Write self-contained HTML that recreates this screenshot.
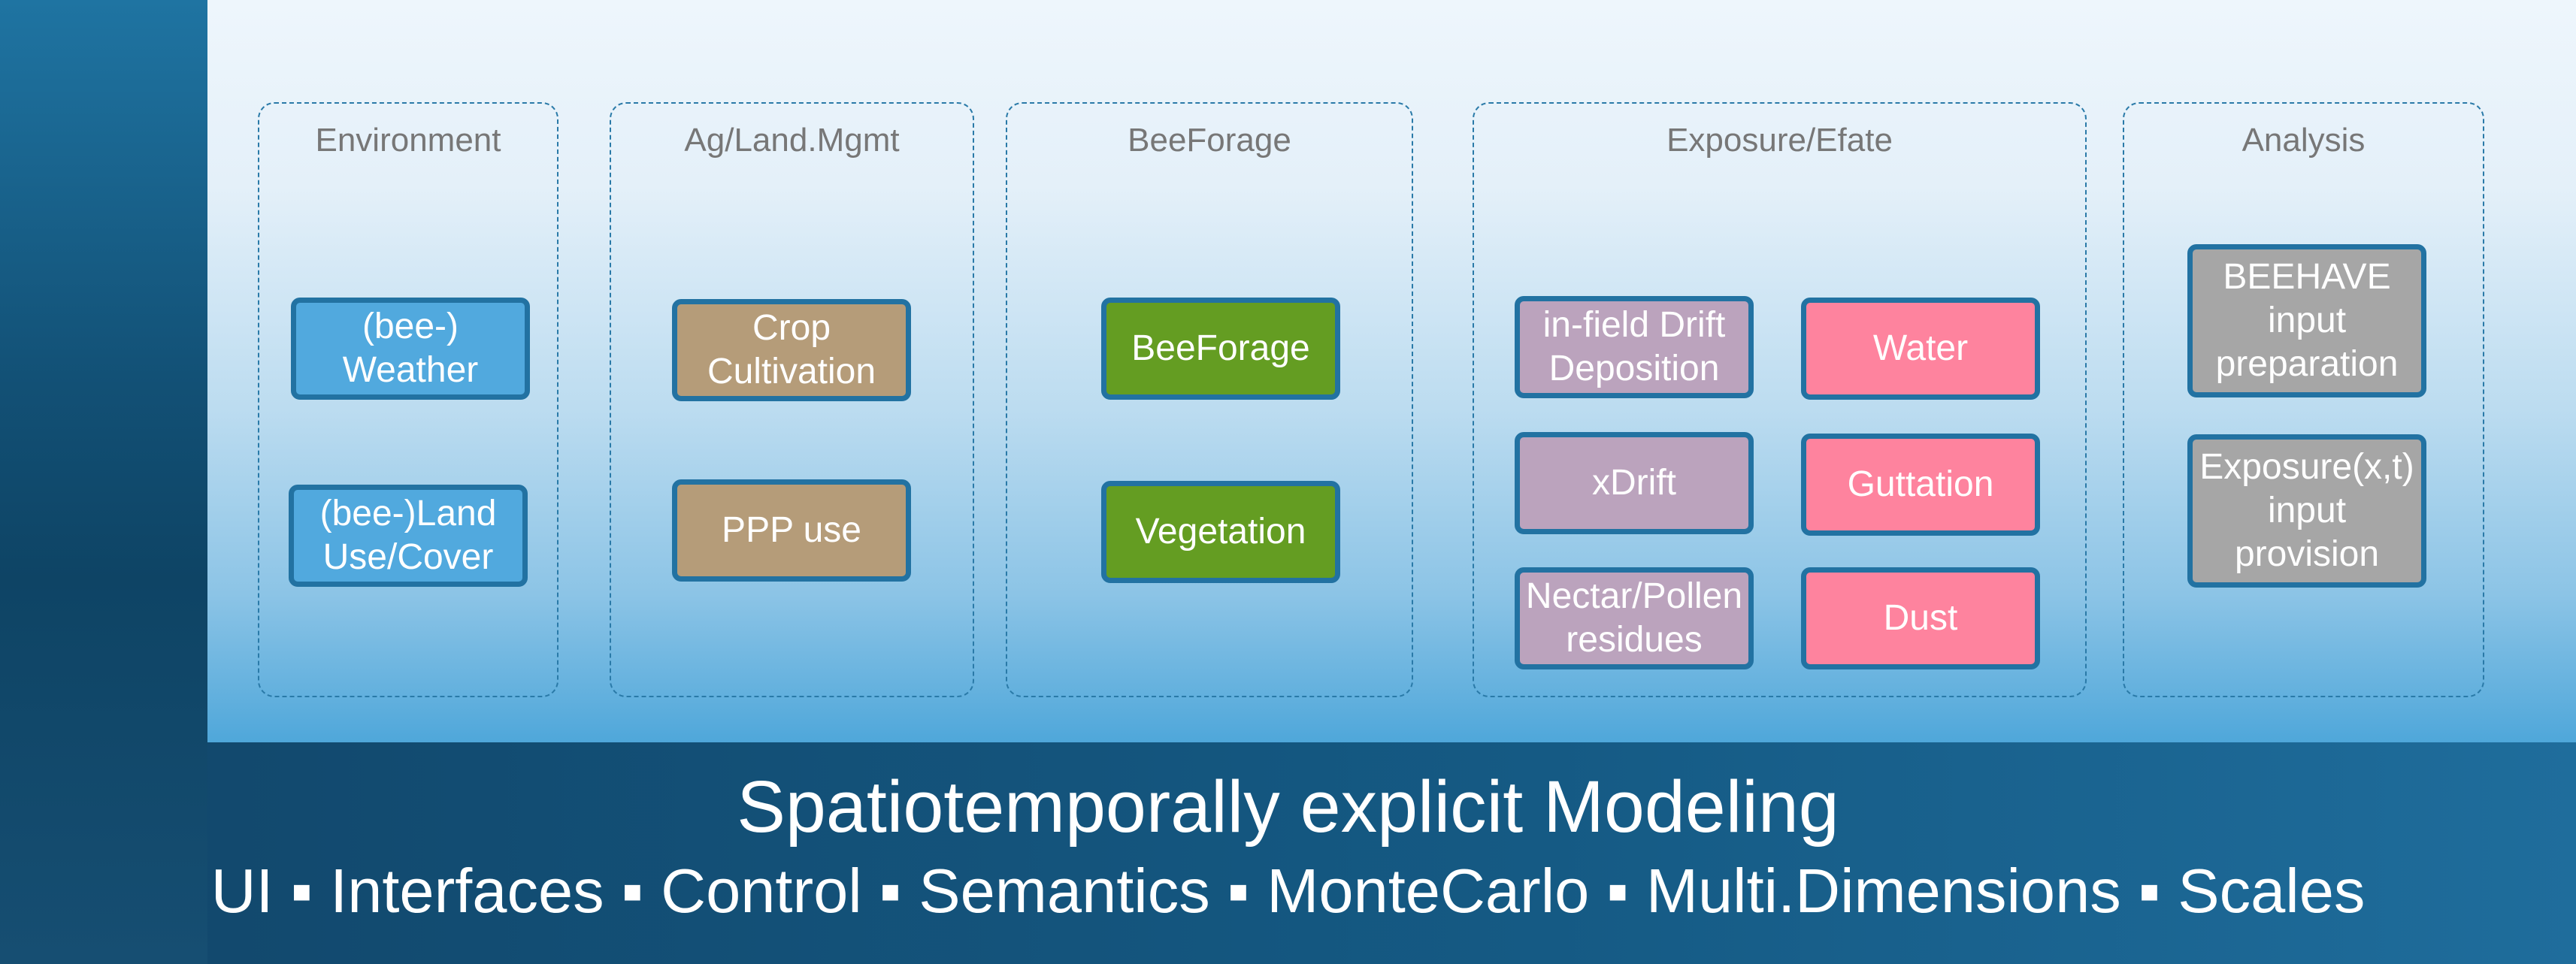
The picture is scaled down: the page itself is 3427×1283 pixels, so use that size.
<!DOCTYPE html>
<html><head><meta charset="utf-8"><style>
html,body{margin:0;padding:0}
body{width:3427px;height:1283px;position:relative;overflow:hidden;font-family:"Liberation Sans",sans-serif;
background:linear-gradient(90deg,#11466a 0%,#155a84 60%,#1f6d9c 100%);}
#left{position:absolute;left:0;top:0;width:276px;height:1283px;background:linear-gradient(180deg,#1f74a2 0%,#125075 40%,#0e4465 60%,#164e72 100%);}
#panel{position:absolute;left:276px;top:0;width:3151px;height:988px;background:linear-gradient(180deg,#eef6fc 0%,#e4f0f9 25%,#bcdcf0 55%,#8cc4e6 80%,#4fa7da 100%);}
.col{position:absolute;border:2px dashed #2a7aa8;border-radius:22px;box-sizing:border-box}
.t{position:absolute;width:100%;text-align:center;top:24px;color:#777;font-size:44px}
.b{position:absolute;border:7px solid #2272a2;border-radius:12px;box-sizing:border-box;color:#fff;font-size:48px;line-height:58px;display:flex;align-items:center;justify-content:center;text-align:center;white-space:nowrap}
.bl{background:#51a9de}.br{background:#b59c79}.gr{background:#649d22}.pu{background:#bba3bd}.pk{background:#fe839e}.gy{background:#a6a6a6}
.f1{position:absolute;left:0;width:3427px;text-align:center;color:#fff;font-size:97px;top:1018px}
.f2{position:absolute;left:0;width:3427px;text-align:center;color:#fff;font-size:83px;top:1138px}
</style></head><body>
<div id="left"></div>
<div id="panel"></div>
<div class="col" style="left:343px;top:136px;width:400px;height:792px"><div class="t">Environment</div></div>
<div class="col" style="left:811px;top:136px;width:485px;height:792px"><div class="t">Ag/Land.Mgmt</div></div>
<div class="col" style="left:1338px;top:136px;width:542px;height:792px"><div class="t">BeeForage</div></div>
<div class="col" style="left:1959px;top:136px;width:817px;height:792px"><div class="t">Exposure/Efate</div></div>
<div class="col" style="left:2824px;top:136px;width:481px;height:792px"><div class="t">Analysis</div></div>

<div class="b bl" style="left:387px;top:396px;width:318px;height:136px">(bee-)<br>Weather</div>
<div class="b bl" style="left:384px;top:645px;width:318px;height:136px">(bee-)Land<br>Use/Cover</div>
<div class="b br" style="left:894px;top:398px;width:318px;height:136px">Crop<br>Cultivation</div>
<div class="b br" style="left:894px;top:638px;width:318px;height:136px">PPP use</div>
<div class="b gr" style="left:1465px;top:396px;width:318px;height:136px">BeeForage</div>
<div class="b gr" style="left:1465px;top:640px;width:318px;height:136px">Vegetation</div>
<div class="b pu" style="left:2015px;top:394px;width:318px;height:136px">in-field Drift<br>Deposition</div>
<div class="b pk" style="left:2396px;top:396px;width:318px;height:136px">Water</div>
<div class="b pu" style="left:2015px;top:575px;width:318px;height:136px">xDrift</div>
<div class="b pk" style="left:2396px;top:577px;width:318px;height:136px">Guttation</div>
<div class="b pu" style="left:2015px;top:755px;width:318px;height:136px">Nectar/Pollen<br>residues</div>
<div class="b pk" style="left:2396px;top:755px;width:318px;height:136px">Dust</div>
<div class="b gy" style="left:2910px;top:325px;width:318px;height:204px">BEEHAVE<br>input<br>preparation</div>
<div class="b gy" style="left:2910px;top:578px;width:318px;height:204px">Exposure(x,t)<br>input<br>provision</div>

<div class="f1">Spatiotemporally explicit Modeling</div>
<div class="f2">UI ▪ Interfaces ▪ Control ▪ Semantics ▪ MonteCarlo ▪ Multi.Dimensions ▪ Scales</div>
</body></html>
